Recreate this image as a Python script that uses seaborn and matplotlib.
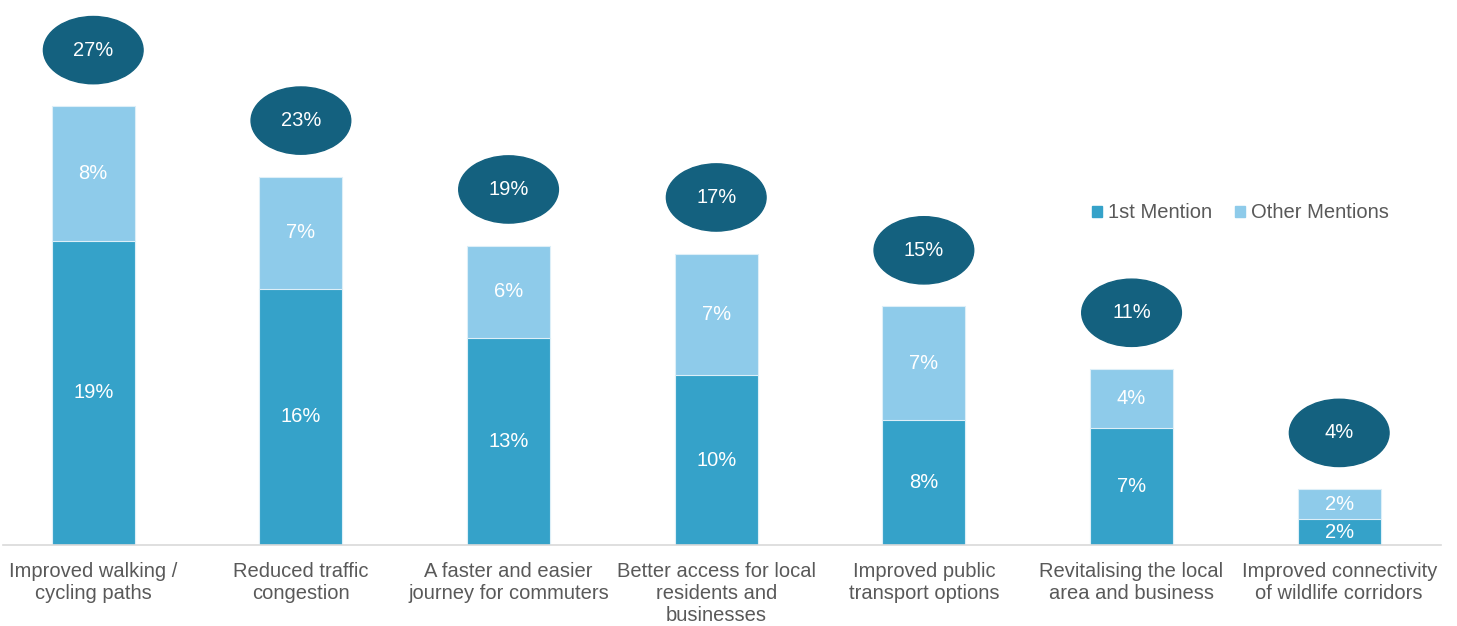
import pandas as pd
import matplotlib.pyplot as plt
import seaborn as sns
from matplotlib.patches import Ellipse, Patch

# Data (segment heights in %)
categories = [
    "Improved walking /\ncycling paths",
    "Reduced traffic\ncongestion",
    "A faster and easier\njourney for commuters",
    "Better access for local\nresidents and\nbusinesses",
    "Improved public\ntransport options",
    "Revitalising the local\narea and business",
    "Improved connectivity\nof wildlife corridors",
]
first_mention = [19.0, 16.0, 12.9, 10.6, 7.8, 7.3, 1.6]
other_mentions = [8.4, 7.0, 5.8, 7.6, 7.1, 3.7, 1.9]
first_labels = ["19%", "16%", "13%", "10%", "8%", "7%", "2%"]
other_labels = ["8%", "7%", "6%", "7%", "7%", "4%", "2%"]
total_labels = ["27%", "23%", "19%", "17%", "15%", "11%", "4%"]

dark = "#35A2C9"
light = "#8ECBEA"
bubble = "#14617F"
grey = "#595959"

df = pd.DataFrame({
    "category": categories,
    "first": first_mention,
    "other": other_mentions,
})
df["total"] = df["first"] + df["other"]

sns.set_theme(style="white")
plt.rcParams["font.family"] = ["Liberation Sans", "DejaVu Sans"]

fig = plt.figure(figsize=(14.57, 6.26), dpi=100)
ax = fig.add_axes([0.002, 0.1294, 0.987, 0.866])

# stacked bars: total in light colour, first mention drawn over it
sns.barplot(data=df, x="category", y="total", color=light, saturation=1,
            width=0.4, edgecolor="#DDEFF8", linewidth=0.8, ax=ax)
sns.barplot(data=df, x="category", y="first", color=dark, saturation=1,
            width=0.4, edgecolor="#DDEFF8", linewidth=0.8, ax=ax)

for i, row in df.iterrows():
    ax.text(i, row["first"] / 2, first_labels[i], ha="center", va="center",
            color="white", fontsize=14.5)
    ax.text(i, row["first"] + row["other"] / 2, other_labels[i], ha="center",
            va="center", color="white", fontsize=14.5)
    # total bubble floats a little above each bar
    yc = row["total"] + 3.5
    ax.add_patch(Ellipse((i, yc), 0.48, 4.2, color=bubble, zorder=3))
    ax.text(i, yc, total_labels[i], ha="center", va="center",
            color="white", fontsize=14.5, zorder=4)

ax.set_xlim(-0.435, 6.49)
ax.set_ylim(0, 33.85)
ax.set_xlabel("")
ax.set_ylabel("")
ax.set_yticks([])
ax.tick_params(axis="x", length=0, pad=12, labelsize=14.5, labelcolor=grey)
for s in ["top", "left", "right"]:
    ax.spines[s].set_visible(False)
ax.spines["bottom"].set_color("#D9D9D9")
ax.spines["bottom"].set_linewidth(1.2)

handles = [Patch(color=dark, label="1st Mention"),
           Patch(color=light, label="Other Mentions")]
fig.legend(handles=handles, loc="center left", bbox_to_anchor=(1074 / 1457, 1 - 213 / 626),
           ncol=2, frameon=False, fontsize=14.5, labelcolor=grey,
           handlelength=0.5, handleheight=0.5, handletextpad=0.3, columnspacing=1.1)

plt.savefig("out.png", dpi=100)
